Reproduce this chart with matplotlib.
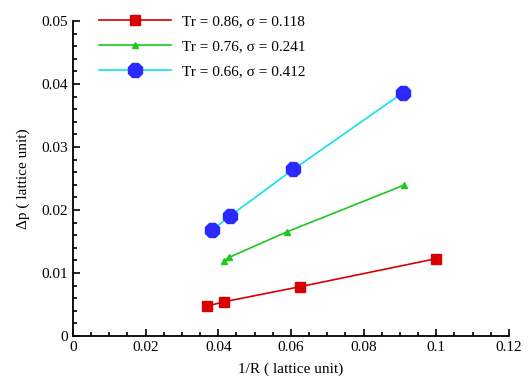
import matplotlib
matplotlib.use('Agg')
import matplotlib.pyplot as plt
from matplotlib.ticker import MultipleLocator, FuncFormatter

# data
x_red = [0.0370, 0.0416, 0.0624, 0.0998]
y_red = [0.00476, 0.00544, 0.00782, 0.01226]
x_green = [0.0416, 0.0429, 0.0589, 0.0911]
y_green = [0.0119, 0.01247, 0.01654, 0.02394]
x_blue = [0.0383, 0.0433, 0.0606, 0.0909]
y_blue = [0.0168, 0.01908, 0.02643, 0.03864]
labels = ['Tr = 0.86, \u03c3 = 0.118', 'Tr = 0.76, \u03c3 = 0.241', 'Tr = 0.66, \u03c3 = 0.412']

plt.rcParams['font.family'] = ['Liberation Serif', 'DejaVu Serif']


def _fmt(v, pos):
  s = f'{v:.2f}'.rstrip('0').rstrip('.')
  return s


fig = plt.figure(figsize=(5.29, 3.81), dpi=100)
ax = fig.add_axes([0.138, 0.118, 0.824, 0.827])

ax.plot(x_red, y_red, color='#d80000', marker='s', markersize=7, lw=1.2, label=labels[0])
ax.plot(x_green, y_green, color='#1ec81e', marker='^', markersize=5, lw=1.2, label=labels[1])
ax.plot(x_blue, y_blue, color='#10e0f0', marker='8', markersize=11, lw=1.2,
        markerfacecolor='#2a2aff', markeredgecolor='#2a2aff', label=labels[2])

ax.set_xlim(0, 0.12)
ax.set_ylim(0, 0.05)
ax.xaxis.set_major_locator(MultipleLocator(0.02))
ax.xaxis.set_minor_locator(MultipleLocator(0.005))
ax.yaxis.set_major_locator(MultipleLocator(0.01))
ax.yaxis.set_minor_locator(MultipleLocator(0.002))
ax.xaxis.set_major_formatter(FuncFormatter(_fmt))
ax.yaxis.set_major_formatter(FuncFormatter(_fmt))
ax.tick_params(which='both', direction='in', labelsize=11, width=1.2)
ax.tick_params(which='major', length=5)
ax.tick_params(which='minor', length=3)
ax.spines['top'].set_visible(False)
ax.spines['right'].set_visible(False)
ax.spines['left'].set_linewidth(1.3)
ax.spines['bottom'].set_linewidth(1.3)

ax.set_xlabel('1/R ( lattice unit)', fontsize=11, labelpad=6)
ax.set_ylabel('\u0394p ( lattice unit)', fontsize=11, labelpad=8)

ax.legend(loc='upper left', bbox_to_anchor=(0.046, 1.04), frameon=False, fontsize=11,
          handlelength=4.7, labelspacing=0.75, handletextpad=0.7, borderaxespad=0)

fig.savefig('out.png', dpi=100)
